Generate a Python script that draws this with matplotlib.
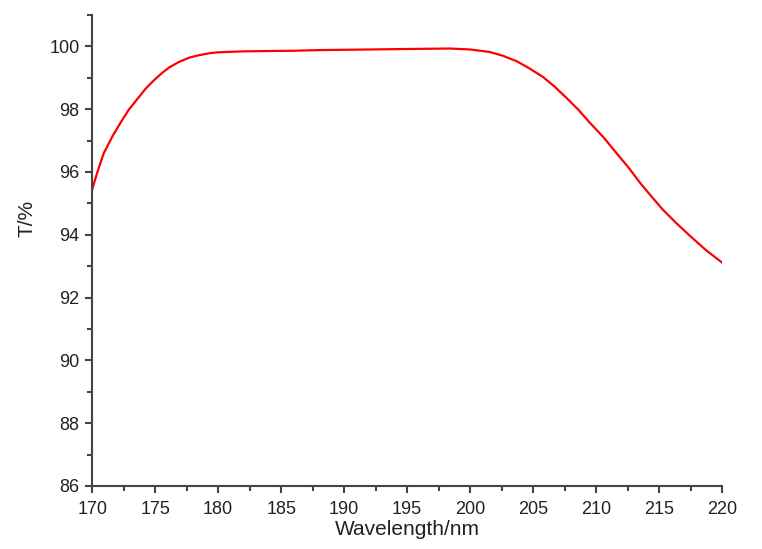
import matplotlib
matplotlib.use("Agg")
import matplotlib.pyplot as plt
from matplotlib.ticker import MultipleLocator

# transmittance
wavelength = [170.0, 170.4, 170.9, 171.6, 172.25, 172.9, 173.6, 174.24, 174.9, 175.6,
              176.12, 176.92, 177.71, 178.5, 179.3, 180.0, 180.6, 182.0, 184.0, 186.0,
              188.0, 190.0, 192.0, 194.0, 196.0, 198.4, 200.0, 201.56, 202.6, 203.68,
              204.7, 205.8, 206.7, 207.65, 208.6, 209.5, 210.6, 211.6, 212.6, 213.5,
              214.4, 215.3, 216.4, 217.5, 218.7, 220.05]
transmittance = [95.45, 95.98, 96.58, 97.13, 97.57, 97.98, 98.33, 98.65, 98.92, 99.17,
                 99.33, 99.51, 99.64, 99.72, 99.78, 99.81, 99.82, 99.84, 99.85, 99.86,
                 99.88, 99.89, 99.90, 99.91, 99.92, 99.93, 99.90, 99.82, 99.70, 99.53,
                 99.30, 99.02, 98.72, 98.36, 97.98, 97.57, 97.10, 96.61, 96.13, 95.65,
                 95.22, 94.80, 94.36, 93.95, 93.52, 93.10]

plt.rcParams["font.family"] = ["Liberation Sans", "DejaVu Sans"]

fig = plt.figure(figsize=(7.62, 5.49), dpi=100)
ax = fig.add_axes([0.121, 0.1148, 0.8265, 0.858])

ax.plot(wavelength, transmittance, color="#ff0000", linewidth=1.6)

ax.set_xlim(170, 220)
ax.set_ylim(86, 101)
ax.xaxis.set_major_locator(MultipleLocator(5))
ax.xaxis.set_minor_locator(MultipleLocator(2.5))
ax.yaxis.set_minor_locator(MultipleLocator(1))
ax.set_yticks([86, 88, 90, 92, 94, 96, 98, 100])

for side in ["top", "right"]:
    ax.spines[side].set_visible(False)
for side in ["left", "bottom"]:
    ax.spines[side].set_linewidth(1.5)
    ax.spines[side].set_color("#444444")

ax.tick_params(which="major", direction="out", length=5, width=1.5, color="#444444",
               labelsize=13, labelcolor="#222222")
ax.tick_params(which="minor", direction="out", length=3.5, width=1.5, color="#444444")
ax.tick_params(axis="x", pad=6)
ax.tick_params(axis="y", pad=4)

ax.set_xlabel("Wavelength/nm", fontsize=15, color="#222222", labelpad=1)
ax.set_ylabel("T/%", fontsize=15, color="#222222")
ax.yaxis.set_label_coords(-0.088, 0.567)

fig.savefig("out.png", dpi=100)
